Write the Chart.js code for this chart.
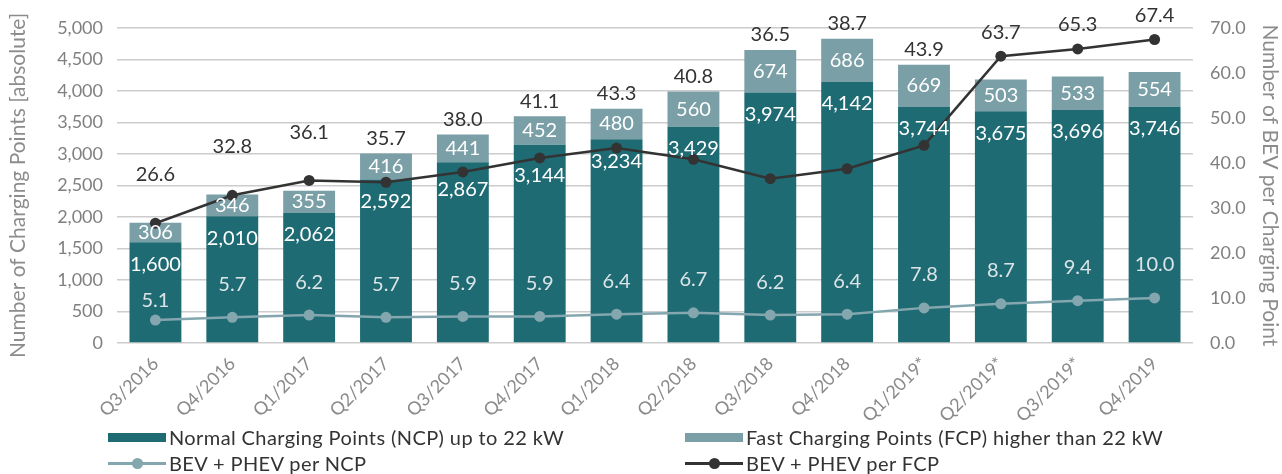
<!DOCTYPE html>
<html>
<head>
<meta charset="utf-8">
<script src="https://cdn.jsdelivr.net/npm/chart.js@4"></script>
<style>
  html, body { margin: 0; padding: 0; background: #fff; }
  #wrap { position: relative; width: 1282px; height: 474px; font-family: Lato, sans-serif; }
  #chart { position: absolute; left: 0; top: 0; }
  .leg { position: absolute; display: flex; align-items: center; font-size: 20px; letter-spacing: 0.4px; color: #333; white-space: nowrap; }
  .sw { width: 58px; height: 9px; margin-right: 3px; }
  .ln { position: relative; width: 58px; height: 3px; margin-right: 3px; }
  .ln i { position: absolute; left: 24px; top: -4px; width: 11px; height: 11px; border-radius: 50%; }
</style>
</head>
<body>
<div id="wrap">
  <canvas id="chart" width="1282" height="474"></canvas>
  <div id="legend"></div>
</div>
<script>
// quarters on the x axis
const quarters = ['Q3/2016', 'Q4/2016', 'Q1/2017', 'Q2/2017', 'Q3/2017', 'Q4/2017', 'Q1/2018',
  'Q2/2018', 'Q3/2018', 'Q4/2018', 'Q1/2019*', 'Q2/2019*', 'Q3/2019*', 'Q4/2019'];
// charging points (left axis)
const normalPoints = [1600, 2010, 2062, 2592, 2867, 3144, 3234, 3429, 3974, 4142, 3744, 3675, 3696, 3746];
const fastPoints = [306, 346, 355, 416, 441, 452, 480, 560, 674, 686, 669, 503, 533, 554];
// vehicles per charging point (right axis)
const evPerNormal = [5.1, 5.7, 6.2, 5.7, 5.9, 5.9, 6.4, 6.7, 6.2, 6.4, 7.8, 8.7, 9.4, 10.0];
const evPerFast = [26.6, 32.8, 36.1, 35.7, 38.0, 41.1, 43.3, 40.8, 36.5, 38.7, 43.9, 63.7, 65.3, 67.4];

const seriesNames = ['Normal Charging Points (NCP) up to 22 kW', 'Fast Charging Points (FCP) higher than 22 kW',
  'BEV + PHEV per NCP', 'BEV + PHEV per FCP'];
const leftTicks = { min: 0, max: 5000, step: 500 };
const rightTicks = { min: 0, max: 70, step: 10 };

const colNormal = '#1f6b73';
const colFast = '#7a9fa6';
const colLineNormal = '#84a6ae';
const colLineFast = '#333333';
const FONT = 'Lato, sans-serif';

// draws the value labels the way the original places them
const valueLabels = {
  id: 'valueLabels',
  afterDatasetsDraw(chart) {
    const ctx = chart.ctx;
    const yScale = chart.scales.y;
    const fastLine = chart.getDatasetMeta(3).data;
    ctx.save();
    ctx.textAlign = 'center';
    ctx.textBaseline = 'middle';
    ctx.font = '20px ' + FONT;

    ctx.fillStyle = '#ffffff';
    chart.getDatasetMeta(0).data.forEach((bar, i) => {
      let ly = bar.y + 22;
      // step below the FCP marker when it sits on the label
      const py = fastLine[i].y;
      if (py > bar.y + 9 && py < ly + 4) ly = py + 18;
      ctx.fillText(normalPoints[i].toLocaleString('en-US'), bar.x, ly);
    });
    chart.getDatasetMeta(1).data.forEach((bar, i) => {
      ctx.fillText(fastPoints[i].toLocaleString('en-US'), bar.x, (bar.y + bar.base) / 2);
    });

    ctx.fillStyle = '#dbe5e7';
    chart.getDatasetMeta(2).data.forEach((pt, i) => {
      const off = i === 0 ? 19 : 33;
      ctx.fillText(evPerNormal[i].toFixed(1), pt.x, pt.y - off);
    });

    ctx.fillStyle = '#333333';
    fastLine.forEach((pt, i) => {
      const top = yScale.getPixelForValue(normalPoints[i] + fastPoints[i]);
      let ly;
      if (Math.abs(pt.y - top) < 20) ly = Math.min(pt.y, top) - 48;
      else if (pt.y < top) ly = pt.y - 24;
      else ly = top - 15;
      ctx.fillText(evPerFast[i].toFixed(1), pt.x, ly);
    });
    ctx.restore();
  }
};

const ctx = document.getElementById('chart').getContext('2d');
const chart = new Chart(ctx, {
  type: 'bar',
  data: {
    labels: quarters,
    datasets: [
      { type: 'bar', label: seriesNames[0], data: normalPoints, backgroundColor: colNormal,
        yAxisID: 'y', stack: 'cp', order: 3, categoryPercentage: 1, barPercentage: 0.675 },
      { type: 'bar', label: seriesNames[1], data: fastPoints, backgroundColor: colFast,
        yAxisID: 'y', stack: 'cp', order: 3, categoryPercentage: 1, barPercentage: 0.675 },
      { type: 'line', label: seriesNames[2], data: evPerNormal, yAxisID: 'y1', order: 2,
        borderColor: colLineNormal, backgroundColor: colLineNormal, borderWidth: 2.5,
        pointRadius: 5.5, pointBorderWidth: 0, tension: 0 },
      { type: 'line', label: seriesNames[3], data: evPerFast, yAxisID: 'y1', order: 1,
        borderColor: colLineFast, backgroundColor: colLineFast, borderWidth: 2.5,
        pointRadius: 5.5, pointBorderWidth: 0, tension: 0 }
    ]
  },
  options: {
    responsive: false,
    animation: false,
    layout: { padding: { top: 17, left: 0, right: 0, bottom: 0 } },
    plugins: { legend: { display: false }, tooltip: { enabled: false } },
    scales: {
      x: {
        stacked: true,
        grid: { display: false },
        border: { display: false },
        ticks: { color: '#8a8a8a', font: { family: FONT, size: 18 }, minRotation: 45, maxRotation: 45, padding: 2 },
        afterFit: s => { s.height = 131; }
      },
      y: {
        stacked: true,
        position: 'left',
        min: leftTicks.min, max: leftTicks.max,
        ticks: { stepSize: leftTicks.step, color: '#808080', padding: 14,
          font: { family: FONT, size: 18 }, callback: v => v.toLocaleString('en-US') },
        grid: { color: '#cccccc', lineWidth: 1.5, drawTicks: false },
        border: { display: false },
        title: { display: true, text: 'Number of Charging Points [absolute]', color: '#8c8c8c',
          font: { family: FONT, size: 21 }, padding: { top: 6, bottom: 0 } },
        afterFit: s => { s.width = 117; }
      },
      y1: {
        position: 'right',
        min: rightTicks.min, max: rightTicks.max,
        ticks: { stepSize: rightTicks.step, color: '#808080', padding: 17,
          font: { family: FONT, size: 18 }, callback: v => v.toFixed(1) },
        grid: { display: false, drawTicks: false },
        border: { display: false },
        title: { display: true, text: 'Number of BEV per Charging Point', color: '#8c8c8c',
          font: { family: FONT, size: 21 }, padding: { top: 0, bottom: 2 } },
        afterFit: s => { s.width = 89; }
      }
    }
  },
  plugins: [valueLabels]
});

// legend laid out in two columns like the original
const legendSpec = [
  { kind: 'box', color: colNormal, left: 108, top: 425 },
  { kind: 'box', color: colFast, left: 685, top: 425 },
  { kind: 'line', color: colLineNormal, left: 108, top: 451 },
  { kind: 'line', color: colLineFast, left: 685, top: 451 }
];
const legendEl = document.getElementById('legend');
legendSpec.forEach((item, i) => {
  const div = document.createElement('div');
  div.className = 'leg';
  div.style.left = item.left + 'px';
  div.style.top = item.top + 'px';
  const mark = item.kind === 'box'
    ? `<span class="sw" style="background:${item.color}"></span>`
    : `<span class="ln" style="background:${item.color}"><i style="background:${item.color}"></i></span>`;
  div.innerHTML = mark + `<span>${seriesNames[i]}</span>`;
  legendEl.appendChild(div);
});
</script>
</body>
</html>
